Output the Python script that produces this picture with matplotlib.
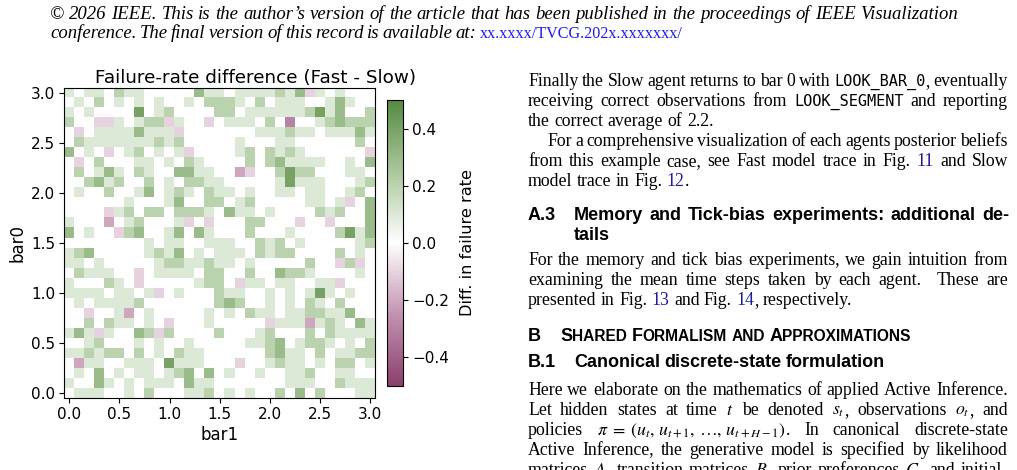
import re
import numpy as np
import matplotlib
matplotlib.use('Agg')
import matplotlib.pyplot as plt
from matplotlib.colors import LinearSegmentedColormap

W, H = 1017, 470
plt.rcParams['mathtext.fontset'] = 'stix'

# ---- data: failure-rate difference, one string per bar0 row (top row = 3.0)
tick_vals = [0.0, 0.5, 1.0, 1.5, 2.0, 2.5, 3.0]
levels = {'.': 0.0, '1': 0.1, '2': 0.2, '3': 0.3, '4': 0.4,
          'a': -0.1, 'b': -0.2, 'c': -0.3}
diff_rows = [
    "1.11.211.....311.1111213a1.1...",
    ".1.2.1.1.1..1.2221.2.111..131..",
    "1.1....4.12....22.1111112413..2",
    "2..aa1.122a1..a.111.2.c..123222",
    ".a.11113111a.......111211.11131",
    ".21111111212.....1...11......2.",
    "3.1.a.12.1.1a....12.2121......a",
    ".a.2...11.1.21....2.231111..1.3",
    ".2.131.21..3311..ba..2422...11.",
    "..2312..2.1.2211.....14111...12",
    ".1..2..13.121.211.1..11.11..12.",
    "......1...13..22.12.....11.1a.3",
    "....a12.22.2221.311.1....212..3",
    "1...b.12...1a.a...22...a..a...3",
    "3.1..a23..13.31...2...1....2413",
    "........1.11..111..212.1.....12",
    "123.....1213.1.111.2122....2.1.",
    "11.1.....12211211.1.....2..a2a.",
    ".2111..a.1111.22..2..3221....1.",
    "1...21.a.....122.a11.11..11a...",
    "1111.11.1a.1...211..1.1.141.1..",
    ".1.11112.......232..1.1.21.2...",
    "..a..1b.1.....1.1.211.1122113..",
    "..2.211.1.a...1.....a111b121.31",
    "131a1..32a2....2...12...2.21111",
    "..12...1.1..1.....1123.1221.1.2",
    "112122.2.1.211......2311.2.1122",
    ".b11..111.4111...a..1211.1.22.1",
    ".1.3.1.11.123.3.1..1..112..11..",
    "1..31.1.111.311.......111..2111",
    ".111..1.2...112.1.1..2.3.2...11",
]
assert all(len(r) == 31 for r in diff_rows) and len(diff_rows) == 31
Z = np.array([[levels[ch] for ch in row] for row in diff_rows])[::-1]

cmap = LinearSegmentedColormap.from_list(
    'diff', ['#8a3f6d', '#c393b1', '#ffffff', '#abc89c', '#568943'])

fig = plt.figure(figsize=(W / 100, H / 100), dpi=100)

# ---- heatmap
ax = fig.add_axes([64.3 / W, 1 - 398.3 / H, 310.7 / W, 310.7 / H])
im = ax.imshow(Z, origin='lower', extent=(-0.05, 3.05, -0.05, 3.05),
               cmap=cmap, vmin=-0.5, vmax=0.5, interpolation='nearest',
               aspect='auto')
ax.set_xticks(tick_vals)
ax.set_yticks(tick_vals)
ax.set_xticklabels([f'{v:.1f}' for v in tick_vals])
ax.set_yticklabels([f'{v:.1f}' for v in tick_vals])
ax.tick_params(labelsize=11, length=3.5, width=0.8, pad=3)
ax.set_xlabel('bar1', fontsize=12, labelpad=3)
ax.set_ylabel('bar0', fontsize=12, labelpad=3)
fig.text(256 / W, 1 - 83 / H, 'Failure-rate difference (Fast - Slow)',
         ha='center', va='baseline', fontsize=13.2)

cax = fig.add_axes([387.3 / W, 1 - 385.7 / H, 15.4 / W, 285.7 / H])
cb = fig.colorbar(im, cax=cax, ticks=[-0.4, -0.2, 0.0, 0.2, 0.4])
cb.ax.tick_params(labelsize=11, length=3.5, width=0.8)
cb.set_label('Diff. in failure rate', fontsize=11.6, labelpad=8)

# ---- page text
R = fig.canvas.get_renderer()
BODY = 12.8
HEAD = 13.0
STY = {
    'rm': dict(family='Liberation Serif', size=BODY, color='black'),
    'tt': dict(family='DejaVu Sans Mono', size=BODY * 0.86, color='black'),
    'ref': dict(family='Liberation Serif', size=BODY, color='#1c1c9e'),
    'math': dict(family='Liberation Serif', size=BODY, color='black'),
    'hb': dict(family='Liberation Sans', size=HEAD, weight='bold', color='black'),
    'scb': dict(family='Liberation Sans', size=HEAD, weight='bold', color='black'),
    'scs': dict(family='Liberation Sans', size=HEAD * 0.86, weight='bold', color='black'),
}


def parse(word, base='rm'):
    out = []
    for part in re.split(r'(@\w+\{[^}]*\}|\$[^$]*\$)', word):
        if not part:
            continue
        m = re.match(r'@(\w+)\{([^}]*)\}', part)
        if m:
            out.append((m.group(1), m.group(2)))
        elif part.startswith('$'):
            out.append(('math', part))
        else:
            out.append((base, part))
    return out


def place_line(y, x0, x1, line, justify=True, base='rm', space=None, min_gap=2.5):
    words = [parse(w, base) for w in line.split(' ')]
    items, widths = [], []
    for w in words:
        pieces, ww = [], 0.0
        for kind, s in w:
            t = fig.text(0, 1 - y / H, s, ha='left', va='baseline', **STY[kind])
            pieces.append((t, ww))
            ww += t.get_window_extent(renderer=R).width
        items.append(pieces)
        widths.append(ww)
    if space is None:
        space = STY[base]['size'] * 100 / 72 * 0.25
    if justify and len(words) > 1:
        gap = max((x1 - x0 - sum(widths)) / (len(words) - 1), min_gap)
    else:
        gap = space
    x = x0
    for pieces, ww in zip(items, widths):
        for t, off in pieces:
            t.set_x((x + off) / W)
        x += ww + gap
    return x - gap


L, RR = 528, 1008
place_line(85.7, L, RR, "Finally the Slow agent returns to bar 0 with @tt{LOOK_BAR_0}, eventually")
place_line(105.7, L, RR, "receiving correct observations from @tt{LOOK_SEGMENT} and reporting")
place_line(125.7, L, RR, "the correct average of 2.2.", justify=False)
place_line(145.7, 547, RR, "For a comprehensive visualization of each agents posterior beliefs")
place_line(165.7, L, RR, "from this example case, see Fast model trace in Fig. @ref{11} and Slow")
place_line(185.5, L, RR, "model trace in Fig. @ref{12}.", justify=False)

place_line(220, L, RR, "A.3", justify=False, base='hb')
place_line(220, 574, 1009, "Memory and Tick-bias experiments: additional de-", base='hb')
place_line(240, 574, 1009, "tails", justify=False, base='hb')

place_line(265, L, RR, "For the memory and tick bias experiments, we gain intuition from")
place_line(285, L, RR, "examining the mean time steps taken by each agent.  These are")
place_line(305, L, RR, "presented in Fig. @ref{13} and Fig. @ref{14}, respectively.", justify=False)

place_line(340.7, L, RR, "B", justify=False, base='hb')
place_line(340.7, 560, RR,
           "@scb{S}@scs{HARED} @scb{F}@scs{ORMALISM} @scs{AND} @scb{A}@scs{PPROXIMATIONS}",
           justify=False, base='hb')
place_line(367, L, RR, "B.1", justify=False, base='hb')
place_line(367, 574, RR, "Canonical discrete-state formulation", justify=False, base='hb')

place_line(395, L, RR, "Here we elaborate on the mathematics of applied Active Inference.")
place_line(415, L, RR, "Let hidden states at time $t$ be denoted $s_t$, observations $o_t$, and")
place_line(435, L, RR, r"policies $\pi\;=\;(u_t,\,u_{t+1},\,\ldots,\,u_{t+H-1})$. In canonical discrete-state")
place_line(455, L, RR, "Active Inference, the generative model is specified by likelihood")
place_line(475, L, RR, "matrices $A$, transition matrices $B$, prior preferences $C$, and initial-")

# ---- copyright header (italic, scaled to the measured line width)
hdr1 = "\u00a9 2026 IEEE. This is the author\u2019s version of the article that has been published in the proceedings of IEEE Visualization"
probe = fig.text(0, 0, hdr1, family='Liberation Serif', style='italic', size=12)
hsize = 12 * 907 / probe.get_window_extent(renderer=R).width
probe.remove()
STY['it'] = dict(family='Liberation Serif', style='italic', size=hsize, color='black')
STY['link'] = dict(family='Liberation Serif', size=hsize * 0.86, color='#1a1aee')
place_line(19, 50, 957, hdr1, justify=False, base='it')
x_end = place_line(38, 50, 473, "conference. The final version of this record is available at:",
                   base='it', min_gap=3.2)
place_line(38, x_end + 3, 1000, "@link{xx.xxxx/TVCG.202x.xxxxxxx/}", justify=False, base='it')

fig.savefig('out.png', dpi=100)
